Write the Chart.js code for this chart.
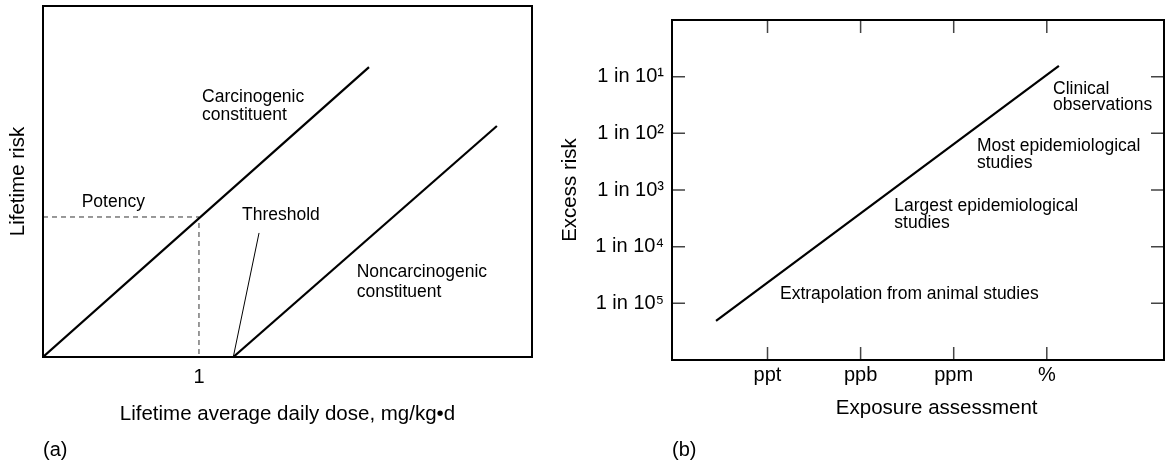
<!DOCTYPE html>
<html>
<head>
<meta charset="utf-8">
<title>Lifetime risk and excess risk</title>
<script src="https://cdn.jsdelivr.net/npm/chart.js@4.4.1/dist/chart.umd.min.js"></script>
<style>
  html, body { margin: 0; padding: 0; background: #fff; }
  #wrap { position: relative; width: 1171px; height: 466px; }
  .panel { position: absolute; top: 0; height: 466px; }
  #panelA { left: 0; width: 550px; }
  #panelB { left: 550px; width: 621px; }
</style>
</head>
<body>
<div id="wrap">
  <div class="panel" id="panelA"><canvas id="doseChart"></canvas></div>
  <div class="panel" id="panelB"><canvas id="riskChart"></canvas></div>
</div>
<script>
// (a) lifetime risk against lifetime average daily dose
const doseTicks = [1];
const carcinogenicDose = [0, 2.09];
const carcinogenicRisk = [0, 2.07];
const noncarcinogenicDose = [1.22, 2.91];
const noncarcinogenicRisk = [0, 1.65];
const potencyDose = [0, 1, 1];
const potencyRisk = [1, 1, 0];
const thresholdDose = [1.22, 1.385];
const thresholdRisk = [0, 0.886];

// (b) excess risk (1 in 10^n) against exposure
const exposureLabels = ["ppt", "ppb", "ppm", "%"];
const riskExponents = [1, 2, 3, 4, 5];
const exposureLevel = [0.447, 4.13];
const excessRiskExponent = [5.31, 0.81];

const FONT = "'Liberation Sans', Arial, Helvetica, sans-serif";
const SUP = { 1: "\u00b9", 2: "\u00b2", 3: "\u00b3", 4: "\u2074", 5: "\u2075" };

Chart.defaults.font.family = FONT;
Chart.defaults.color = "#000";
Chart.defaults.animation = false;

const pts = (xs, ys) => xs.map((x, i) => ({ x: x, y: ys[i] }));

// box around the plot area, with short inward ticks
const framePlugin = {
  id: "frame",
  afterDraw(chart, args, opts) {
    const { ctx, chartArea: a, scales } = chart;
    const len = opts.tickLen || 0;
    ctx.save();
    ctx.strokeStyle = "#444";
    ctx.lineWidth = 1.5;
    ctx.beginPath();
    (opts.xTicks || []).forEach(v => {
      const px = scales.x.getPixelForValue(v);
      ctx.moveTo(px, a.bottom); ctx.lineTo(px, a.bottom - len);
      ctx.moveTo(px, a.top); ctx.lineTo(px, a.top + len);
    });
    (opts.yTicks || []).forEach(v => {
      const py = scales.y.getPixelForValue(v);
      ctx.moveTo(a.left, py); ctx.lineTo(a.left + len, py);
      ctx.moveTo(a.right, py); ctx.lineTo(a.right - len, py);
    });
    ctx.stroke();
    ctx.strokeStyle = "#000";
    ctx.lineWidth = 2;
    ctx.strokeRect(a.left, a.top, a.right - a.left, a.bottom - a.top);
    ctx.restore();
  }
};

// text notes placed in data units
const notesPlugin = {
  id: "notes",
  afterDraw(chart, args, opts) {
    const { ctx, scales } = chart;
    ctx.save();
    ctx.fillStyle = "#000";
    ctx.textBaseline = "alphabetic";
    opts.items.forEach(n => {
      ctx.font = (n.size || opts.size) + "px " + FONT;
      ctx.textAlign = n.align || "left";
      ctx.fillText(n.text, scales.x.getPixelForValue(n.x), scales.y.getPixelForValue(n.y));
    });
    ctx.restore();
  }
};

const solid = (data) => ({
  data: data, showLine: true, pointRadius: 0, borderColor: "#000", borderWidth: 2.2, fill: false
});

new Chart(document.getElementById("doseChart"), {
  type: "scatter",
  data: {
    datasets: [
      solid(pts(carcinogenicDose, carcinogenicRisk)),
      solid(pts(noncarcinogenicDose, noncarcinogenicRisk)),
      { data: pts(potencyDose, potencyRisk), showLine: true, pointRadius: 0,
        borderColor: "#333", borderWidth: 1, borderDash: [5, 4] },
      { data: pts(thresholdDose, thresholdRisk), showLine: true, pointRadius: 0,
        borderColor: "#000", borderWidth: 1 }
    ]
  },
  options: {
    responsive: true,
    maintainAspectRatio: false,
    layout: { autoPadding: false, padding: { top: 6, right: 18, left: 0, bottom: 0 } },
    scales: {
      x: {
        type: "linear", min: 0, max: 3.135,
        afterBuildTicks: s => { s.ticks = doseTicks.map(v => ({ value: v })); },
        afterFit: s => { s.height = 81.4; },
        grid: { display: false, drawTicks: false },
        border: { display: false },
        ticks: { font: { size: 20 }, padding: 8.4 },
        title: { display: true, text: "Lifetime average daily dose, mg/kg\u2022d",
          font: { size: 20.5 }, padding: { top: 0, bottom: 12.2 } }
      },
      y: {
        type: "linear", min: 0, max: 2.507,
        afterFit: s => { s.width = 43; },
        grid: { display: false, drawTicks: false },
        border: { display: false },
        ticks: { display: false },
        title: { display: true, text: "Lifetime risk", font: { size: 20.5 }, padding: { top: 6, bottom: 0 } }
      }
    },
    plugins: {
      legend: { display: false },
      tooltip: { enabled: false },
      title: { display: true, text: "(a)", position: "bottom", align: "start", fullSize: false,
        font: { size: 20, weight: "normal" }, padding: { top: 0, bottom: 3.6 } },
      frame: { tickLen: 0 },
      notes: {
        size: 17.5,
        items: [
          { text: "Carcinogenic", x: 1.02, y: 1.824 },
          { text: "constituent", x: 1.02, y: 1.693 },
          { text: "Potency", x: 0.248, y: 1.074 },
          { text: "Threshold", x: 1.276, y: 0.979 },
          { text: "Noncarcinogenic", x: 2.011, y: 0.569 },
          { text: "constituent", x: 2.011, y: 0.431 }
        ]
      }
    }
  },
  plugins: [framePlugin, notesPlugin]
});

new Chart(document.getElementById("riskChart"), {
  type: "scatter",
  data: {
    datasets: [ solid(pts(exposureLevel, excessRiskExponent)) ]
  },
  options: {
    responsive: true,
    maintainAspectRatio: false,
    layout: { autoPadding: false, padding: { top: 9, right: 7, left: 0, bottom: 0 } },
    scales: {
      x: {
        type: "linear", min: -0.026, max: 5.259,
        afterBuildTicks: s => { s.ticks = exposureLabels.map((l, i) => ({ value: i + 1 })); },
        afterFit: s => { s.height = 78.4; },
        grid: { display: false, drawTicks: false },
        border: { display: false },
        ticks: { font: { size: 20 }, padding: 3.4, callback: v => exposureLabels[Math.round(v) - 1] },
        // the axis title sits off-centre in the original, so it is drawn as a note below
        title: { display: false }
      },
      y: {
        type: "linear", min: 0, max: 6, reverse: true,
        afterBuildTicks: s => { s.ticks = riskExponents.map(v => ({ value: v })); },
        afterFit: s => { s.width = 122; },
        grid: { display: false, drawTicks: false },
        border: { display: false },
        ticks: { font: { size: 20 }, padding: 8, callback: v => "1 in 10" + SUP[Math.round(v)] },
        title: { display: true, text: "Excess risk", font: { size: 20.5 }, padding: { top: 7.7, bottom: 0 } }
      }
    },
    plugins: {
      legend: { display: false },
      tooltip: { enabled: false },
      title: { display: true, text: "(b)", position: "bottom", align: "start", fullSize: false,
        font: { size: 20, weight: "normal" }, padding: { top: 0, bottom: 3.6 } },
      frame: { tickLen: 13, xTicks: [1, 2, 3, 4], yTicks: riskExponents },
      notes: {
        size: 17.5,
        items: [
          { text: "Clinical", x: 4.067, y: 1.302 },
          { text: "observations", x: 4.067, y: 1.587 },
          { text: "Most epidemiological", x: 3.25, y: 2.309 },
          { text: "studies", x: 3.25, y: 2.611 },
          { text: "Largest epidemiological", x: 2.362, y: 3.379 },
          { text: "studies", x: 2.362, y: 3.662 },
          { text: "Extrapolation from animal studies", x: 1.134, y: 4.915 },
          { text: "Exposure assessment", x: 2.817, y: 6.957, size: 20.5, align: "center" }
        ]
      }
    }
  },
  plugins: [framePlugin, notesPlugin]
});
</script>
</body>
</html>
